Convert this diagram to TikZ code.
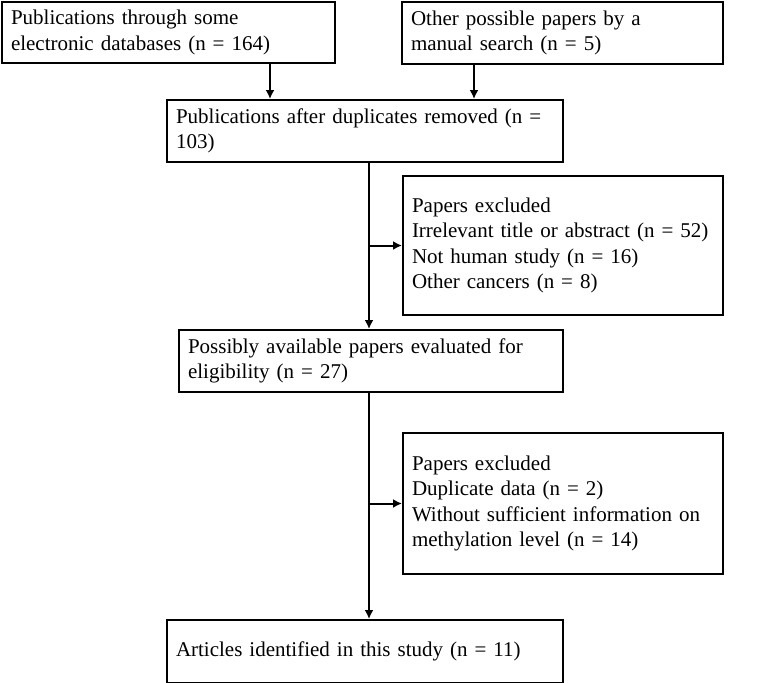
\documentclass[tikz,border=0pt]{standalone}
\usepackage{fontspec}
\setmainfont{Liberation Serif}
\usetikzlibrary{arrows.meta}

\begin{document}
\begin{tikzpicture}[x=1pt, y=-1pt,
        box/.style={draw, line width=2pt, anchor=north west, inner xsep=9pt, inner ysep=0pt, align=left,
            font=\fontsize{21}{25.5}\selectfont},
        flow/.style={line width=2pt, -{Latex[length=9pt, width=9pt]}}]
            \useasboundingbox (0, 0) rectangle (769, 683);
            % boxes
            \node[box, text width=315pt, minimum height=61pt] (b1) at (1, 1) {Publications through some\\electronic databases (n = 164)};
            \node[box, text width=303pt, minimum height=62pt] (b2) at (401, 1) {Other possible papers by a\\manual search (n = 5)};
            \node[box, text width=378pt, minimum height=62pt] (b3) at (166, 99) {Publications after duplicates removed (n =\\103)};
            \node[box, text width=302pt, minimum height=139pt] (b4) at (402, 175) {Papers excluded\\Irrelevant title or abstract (n = 52)\\Not human study (n = 16)\\Other cancers (n = 8)};
            \node[box, text width=366pt, minimum height=62pt] (b5) at (178, 329) {Possibly available papers evaluated for\\eligibility (n = 27)};
            \node[box, text width=302pt, minimum height=141pt] (b6) at (402, 432) {Papers excluded\\Duplicate data (n = 2)\\Without sufficient information on\\methylation level (n = 14)};
            \node[box, text width=378pt, minimum height=63pt] (b7) at (166, 619) {Articles identified in this study (n = 11)};
            % connectors
            \coordinate (t1) at (270, 0);
            \coordinate (t2) at (474, 0);
            \coordinate (t3) at (369, 0);
            \draw[flow] (b1.south -| t1) -- (b3.north -| t1);
            \draw[flow] (b2.south -| t2) -- (b3.north -| t2);
            \draw[flow] (b3.south -| t3) -- (b5.north -| t3);
            \draw[flow] (b4.west -| t3) -- (b4.west);
            \draw[flow] (b5.south -| t3) -- (b7.north -| t3);
            \draw[flow] (b6.west -| t3) -- (b6.west);
        \end{tikzpicture}
\end{document}
